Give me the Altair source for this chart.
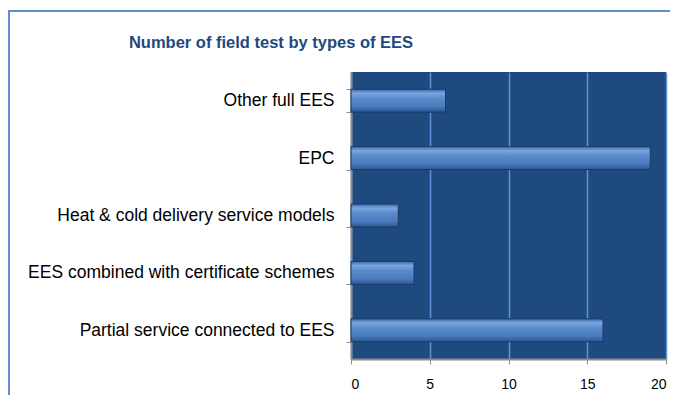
import altair as alt
import pandas as pd

categories = ["Other full EES", "EPC", "Heat & cold delivery service models",
              "EES combined with certificate schemes", "Partial service connected to EES"]
values = [6, 19, 3, 4, 16]
x_ticks = [0, 5, 10, 15, 20]
title_text = "Number of field test by types of EES"

df = pd.DataFrame({"cat": categories, "val": values})

bar_grad = alt.Gradient(
    gradient="linear", x1=0, y1=0, x2=0, y2=1,
    stops=[
        alt.GradientStop(color="#3a68a8", offset=0),
        alt.GradientStop(color="#7aa6e0", offset=0.18),
        alt.GradientStop(color="#5b8bcb", offset=0.4),
        alt.GradientStop(color="#4a7bbd", offset=0.75),
        alt.GradientStop(color="#2b5690", offset=1),
    ],
)

bars = alt.Chart(df).mark_bar(
    color=bar_grad, stroke="#1a3a66", strokeWidth=1
).encode(
    x=alt.X("val:Q", scale=alt.Scale(domain=[0, 20], nice=False),
            axis=alt.Axis(values=x_ticks, title=None, grid=True, gridColor="#5d92d8",
                          gridWidth=1.5, domainColor="#8c8c8c", domainWidth=2,
                          tickColor="#8c8c8c", tickSize=5, labelFontSize=14,
                          labelFont="Liberation Sans", labelColor="#000000",
                          labelPadding=13)),
    y=alt.Y("cat:N", sort=categories,
            scale=alt.Scale(paddingInner=0.6, paddingOuter=0.3),
            axis=alt.Axis(title=None, tickBand="extent", domainColor="#8c8c8c",
                          domainWidth=2, tickColor="#8c8c8c", tickSize=5,
                          labelFontSize=17.5, labelFont="Liberation Sans",
                          labelColor="#000000", labelPadding=12, labelLimit=400)),
)

frame_left = alt.Chart(pd.DataFrame({"a": [0]})).mark_rule(
    color="#5f8fcf", strokeWidth=2
).encode(x=alt.value(-342), y=alt.value(-61), y2=alt.value(340))

frame_top = alt.Chart(pd.DataFrame({"a": [0]})).mark_rule(
    color="#5f8fcf", strokeWidth=2
).encode(x=alt.value(-343), x2=alt.value(330), y=alt.value(-61), y2=alt.value(-61))

title = alt.Chart(pd.DataFrame({"t": [title_text]})).mark_text(
    font="Liberation Sans", fontSize=16.5, fontWeight="bold",
    color="#1f497d", align="center", baseline="alphabetic"
).encode(text="t:N", x=alt.value(-80), y=alt.value(-24))

chart = alt.layer(frame_left, frame_top, bars, title).properties(
    width=315, height=287,
    padding={"left": 343, "top": 64, "right": 4, "bottom": 36},
    autosize=alt.AutoSizeParams(type="none"),
    background="white",
).configure_view(fill="#1f4a80", stroke=None)

chart.save("out.html", embed_options={"renderer": "svg", "actions": False})
